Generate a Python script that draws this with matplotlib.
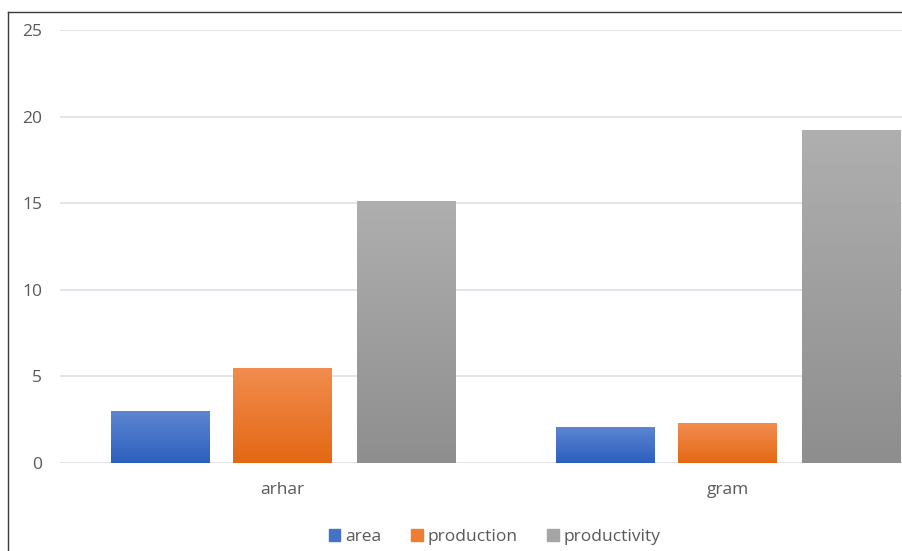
import numpy as np
import matplotlib.pyplot as plt
from matplotlib.colors import LinearSegmentedColormap
from matplotlib.lines import Line2D
from matplotlib.patches import Patch

crops = ["arhar", "gram"]
series = ["area", "production", "productivity"]
area = [3.0, 2.1]
production = [5.5, 2.3]
productivity = [15.1, 19.2]

# top colour, bottom colour of each gradient
grad = {
    "area": ("#5d86d2", "#2c5fbd"),
    "production": ("#f28c4e", "#e36814"),
    "productivity": ("#afafaf", "#8e8e8e"),
}
legend_col = {"area": "#4472c4", "production": "#ed7d31", "productivity": "#a5a5a5"}

W, H = 903, 551
fig = plt.figure(figsize=(W / 100, H / 100), dpi=100)
plt.rcParams["font.family"] = ["Open Sans", "DejaVu Sans"]
txt = "#595959"

ax = fig.add_axes([60 / W, 88 / H, 843 / W, 433 / H])
x = np.arange(len(crops))
width = 0.222
offsets = [-0.275, 0.0, 0.279]

for name, vals, off in zip(series, [area, production, productivity], offsets):
    bars = ax.bar(x + off, vals, width, color=grad[name][1], zorder=2)
    cmap = LinearSegmentedColormap.from_list(name, [grad[name][1], grad[name][0]])
    for b in bars:
        x0, y0 = b.get_x(), b.get_y()
        w, h = b.get_width(), b.get_height()
        im = ax.imshow(np.linspace(0, 1, 100).reshape(-1, 1), cmap=cmap, aspect="auto",
                       origin="lower", extent=[x0, x0 + w, y0, y0 + h], zorder=3)
        im.set_clip_path(b)

ax.set_xlim(-0.5, -0.5 + 843 / 445)
ax.set_ylim(0, 25)
ax.set_yticks([0, 5, 10, 15, 20, 25])
ax.set_xticks(x)
ax.set_xticklabels(crops)
ax.tick_params(axis="both", length=0, labelsize=12.5, labelcolor=txt)
ax.tick_params(axis="y", pad=13)
ax.tick_params(axis="x", pad=14)
ax.grid(axis="y", color="#d9dde6", linewidth=1.1, zorder=0)
for s in ax.spines.values():
    s.set_visible(False)

# legend
handles = [Patch(color=legend_col[n]) for n in series]
fig.legend(handles, series, loc="center", bbox_to_anchor=(495 / W, 1 - 537 / H),
           ncol=3, frameon=False, fontsize=12.5, labelcolor=txt, handlelength=0.65,
           handleheight=0.7, handletextpad=0.3, columnspacing=1.7)

# outer chart border (cropped on right and bottom)
fig.add_artist(Line2D([8 / W, 8 / W], [0, 1 - 12 / H], color="#3a3a3a", lw=1.0))
fig.add_artist(Line2D([8 / W, 1], [1 - 12 / H, 1 - 12 / H], color="#3a3a3a", lw=1.0))

fig.savefig("out.png", dpi=100)
